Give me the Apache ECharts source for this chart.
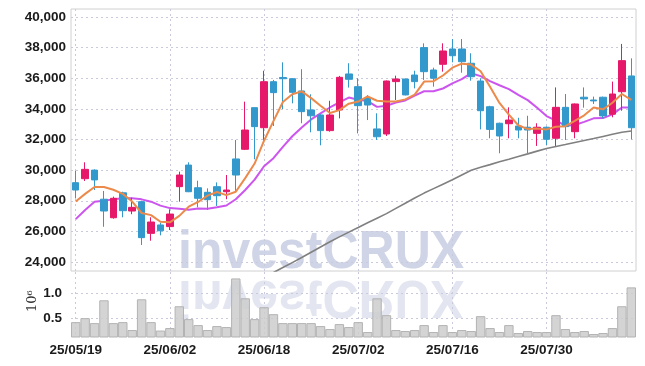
<!DOCTYPE html>
<html>
<head>
<meta charset="utf-8">
<script src="https://cdn.jsdelivr.net/npm/echarts@6/dist/echarts.min.js"></script>
<style>html,body{margin:0;padding:0;background:#fff;}#c{width:645px;height:366px;}</style>
</head>
<body>
<div id="c"></div>
<script>
const dates = ['25/05/19','25/05/20','25/05/21','25/05/22','25/05/23','25/05/26','25/05/27','25/05/28','25/05/29','25/05/30','25/06/02','25/06/04','25/06/05','25/06/09','25/06/10','25/06/11','25/06/12','25/06/13','25/06/16','25/06/17','25/06/18','25/06/19','25/06/20','25/06/23','25/06/24','25/06/25','25/06/26','25/06/27','25/06/30','25/07/01','25/07/02','25/07/03','25/07/04','25/07/07','25/07/08','25/07/09','25/07/10','25/07/11','25/07/14','25/07/15','25/07/16','25/07/17','25/07/18','25/07/21','25/07/22','25/07/23','25/07/24','25/07/25','25/07/28','25/07/29','25/07/30','25/07/31','25/08/01','25/08/04','25/08/05','25/08/06','25/08/07','25/08/08','25/08/11','25/08/12'];
const openP = [29180,29440,30000,28100,26890,28520,27330,27940,25870,26420,26310,28920,30330,28850,28550,28920,28590,30730,31360,34080,32770,35775,36050,35970,35170,33930,33600,32580,33930,36280,35450,34730,32690,32360,35780,35950,36210,38000,36540,36910,37910,37910,36980,35820,34140,33060,33030,32880,32800,32400,32800,32080,34100,32510,34760,34580,34760,33650,35120,36150];
const closeP = [28700,30050,29360,27330,28160,27350,27570,25590,26610,26040,27130,29680,28590,28160,28070,28330,28700,29680,32620,32840,35775,35060,35970,35080,33820,33550,32580,33600,36060,35930,34210,34250,32180,35820,35950,34910,35780,36430,36000,37780,37470,37080,36100,33880,32660,32230,33270,32620,32620,32800,32010,34100,32840,34320,34650,34520,33540,34970,37150,32770];
const highP = [29950,30510,30050,28640,28270,28590,28200,28000,26920,26570,27440,29900,30510,29310,28810,29200,29680,31970,34470,34100,36490,35890,37040,35990,36590,34950,33650,34530,36150,36980,36000,34900,33710,35850,36170,35980,36490,38280,36690,38280,38560,38560,37630,36000,34200,33100,34100,33420,33550,33060,32850,35400,34970,34350,35400,34800,34800,35780,38240,37300];
const lowP = [28150,29290,28700,26300,26830,26920,27120,25110,25390,25740,26090,27940,28560,27570,27400,27660,28100,28590,31310,30710,31820,32880,33990,34360,33060,32470,31620,32510,33380,35390,32400,33270,31970,32230,34580,34880,35340,35890,35450,36430,37040,36360,35840,32660,32080,31100,32080,32080,31100,31580,31640,31580,31970,32080,34080,34320,33380,33450,33880,32010];
const ma5 = [27950,28450,28900,28900,28720,28450,27950,27200,27060,26630,26590,27010,27610,27920,28330,28570,28370,28590,29480,30430,31920,33200,34450,34950,35140,34700,34200,33730,33920,34340,34480,34810,34530,34480,34480,34620,34930,35780,35810,36180,36690,36950,36890,36460,35440,34390,33630,32930,32680,32710,32660,32830,32870,33210,33580,34090,33970,34400,34970,34590];
const ma10 = [26800,27400,27940,28000,28090,28160,28160,28090,27940,27680,27520,27480,27410,27490,27480,27580,27690,28100,28700,29380,30250,30780,31520,32210,32790,33310,33700,34090,34430,34740,34590,34510,34130,34200,34410,34550,34870,35150,35150,35330,35660,35940,36330,36140,35810,35540,35290,34910,34570,34070,33530,33230,32900,32950,33150,33380,33400,33640,34090,34090];
const ma60 = [null,null,null,null,null,null,null,null,null,null,null,null,null,null,null,null,null,null,22350,22680,23000,23310,23640,23960,24290,24640,24980,25320,25640,25950,26250,26560,26860,27160,27500,27840,28180,28500,28790,29080,29370,29680,29990,30190,30360,30540,30710,30890,31060,31240,31410,31545,31670,31800,31930,32060,32200,32340,32470,32550];
const volume = [0.42,0.50,0.40,0.86,0.40,0.42,0.26,0.88,0.42,0.25,0.30,0.74,0.48,0.36,0.26,0.34,0.32,1.30,0.90,0.48,0.72,0.58,0.40,0.40,0.40,0.40,0.34,0.28,0.38,0.32,0.42,0.22,0.90,0.56,0.26,0.24,0.26,0.36,0.22,0.36,0.22,0.26,0.24,0.54,0.30,0.22,0.36,0.20,0.24,0.22,0.22,0.56,0.28,0.22,0.24,0.18,0.20,0.30,0.74,1.12];
const priceTicks = {min: 24000, max: 40000, step: 2000};
const volTicks = {min: 0.5, max: 1.0, step: 0.5};
const volUnit = '10\u2076';

const candles = dates.map((d, i) => [openP[i], closeP[i], lowP[i], highP[i]]);
const UP = '#e5186a', DOWN = '#3399cc';
const labelFont = "'Liberation Sans',Arial,sans-serif";
const gridLine = {show: true, lineStyle: {color: '#c9cbdc', type: [2, 3], width: 1}};

const chart = echarts.init(document.getElementById('c'), null, {renderer: 'canvas'});
chart.setOption({
  animation: false,
  backgroundColor: '#fff',
  grid: [
    {left: 71, right: 9, top: 9, height: 262, show: true, borderColor: '#d0d0d0', borderWidth: 1, backgroundColor: 'transparent'},
    {left: 71, right: 9, top: 272, height: 65, show: false},
    {left: 71, right: 9, top: 17, height: 245, show: false},
    {left: 71, right: 9, top: 293.3, height: 25, show: false}
  ],
  graphic: [
    {type: 'text', x: 178, y: 226, scaleY: 1.08, z: -10, silent: true,
     style: {text: 'investCRUX', font: "bold 50px 'Liberation Sans', Arial, sans-serif", fill: '#cfd5e6'}},
    {type: 'text', x: 178, y: 323, scaleY: -1.08, z: -10, silent: true,
     style: {text: 'investCRUX', font: "bold 50px 'Liberation Sans', Arial, sans-serif", fill: '#e3e6f0'}},
    {type: 'text', x: 26, y: 312, rotation: Math.PI / 2, silent: true,
     style: {text: volUnit, font: "13px 'DejaVu Serif', serif", fill: '#333'}}
  ],
  xAxis: [
    {type: 'category', gridIndex: 0, data: dates, boundaryGap: true,
     axisLine: {show: false}, axisTick: {show: false}, axisLabel: {show: false},
     splitLine: Object.assign({interval: 9, alignWithLabel: true}, gridLine)},
    {type: 'category', gridIndex: 1, data: dates, boundaryGap: true,
     axisLine: {show: false}, axisTick: {show: false},
     axisLabel: {interval: 9, color: '#1a1a1a', fontFamily: labelFont, fontWeight: 'bold', fontSize: 13.5, margin: 6},
     splitLine: Object.assign({interval: 9, alignWithLabel: true}, gridLine)},
    {type: 'value', gridIndex: 2, min: 0, max: 1, show: false},
    {type: 'value', gridIndex: 3, min: 0, max: 1, show: false}
  ],
  yAxis: [
    {type: 'value', gridIndex: 0, min: 23412, max: 40522, show: false, splitLine: {show: false}},
    {type: 'value', gridIndex: 1, min: 0.12, max: 1.43, show: false, splitLine: {show: false}},
    {type: 'value', gridIndex: 2, min: priceTicks.min, max: priceTicks.max, interval: priceTicks.step,
     axisLine: {show: false}, axisTick: {show: false},
     axisLabel: {color: '#1a1a1a', fontFamily: labelFont, fontWeight: 'bold', fontSize: 13.5, margin: 5,
       formatter: v => v.toLocaleString('en-US')},
     splitLine: gridLine},
    {type: 'value', gridIndex: 3, min: volTicks.min, max: volTicks.max, interval: volTicks.step,
     axisLine: {show: false}, axisTick: {show: false},
     axisLabel: {color: '#1a1a1a', fontFamily: labelFont, fontWeight: 'bold', fontSize: 13.5, margin: 9,
       formatter: v => v.toFixed(1)},
     splitLine: gridLine}
  ],
  series: [
    {type: 'bar', xAxisIndex: 1, yAxisIndex: 1, data: volume, barCategoryGap: '0%',
     itemStyle: {color: 'rgba(205,205,205,0.85)', borderColor: '#b3b3b3', borderWidth: 1}, z: 2},
    {type: 'line', xAxisIndex: 0, yAxisIndex: 0, data: ma60, symbol: 'none', connectNulls: false,
     lineStyle: {color: '#808080', width: 1.6}, z: 3},
    {type: 'line', xAxisIndex: 0, yAxisIndex: 0, data: ma10, symbol: 'none',
     lineStyle: {color: '#cc55ee', width: 2}, z: 3},
    {type: 'candlestick', xAxisIndex: 0, yAxisIndex: 0, data: candles, barWidth: 7,
     itemStyle: {color: UP, color0: DOWN, borderColor: UP, borderColor0: DOWN, borderWidth: 1}, z: 4},
    {type: 'line', xAxisIndex: 0, yAxisIndex: 0, data: ma5, symbol: 'none',
     lineStyle: {color: '#ec8a4c', width: 2}, z: 5}
  ]
});
</script>
</body>
</html>
